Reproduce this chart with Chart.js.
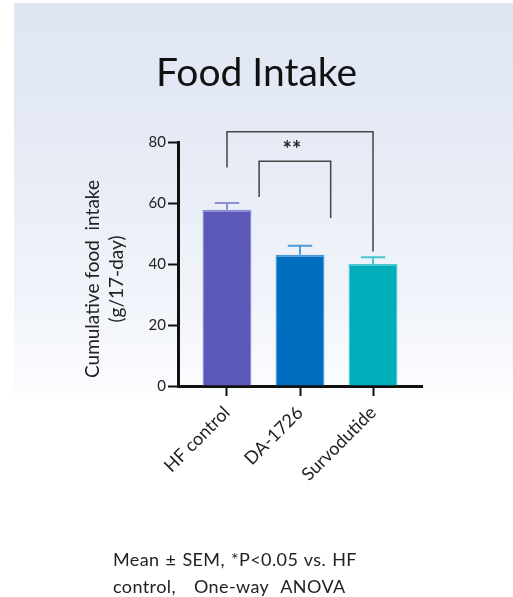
<!DOCTYPE html>
<html>
<head>
<meta charset="utf-8">
<script src="https://cdn.jsdelivr.net/npm/chart.js@4.4.1/dist/chart.umd.min.js"></script>
<style>
  html, body { margin: 0; padding: 0; background: #fff; }
  body { width: 513px; height: 597px; position: relative; overflow: hidden; }
  #panel {
    position: absolute; left: 14px; top: 3px; right: 0; height: 400px;
    background: linear-gradient(to bottom, #dfe6f3 0px, #e6ebf5 150px, #f1f4fa 300px, #fbfcfe 385px, #ffffff 400px);
  }
  #wrap { position: absolute; left: 0; top: 0; width: 513px; height: 597px; }
  #note {
    position: absolute; left: 113px; top: 546px;
    font-family: Lato, sans-serif; font-size: 18px; line-height: 27px;
    letter-spacing: 0.4px; word-spacing: 1px;
    color: #222; white-space: pre;
  }
</style>
</head>
<body>
<div id="panel"></div>
<div id="wrap"><canvas id="chart" width="513" height="597"></canvas></div>
<div id="note">Mean ± SEM, *P&lt;0.05 vs. HF
control,   One-way  ANOVA</div>
<script>
// Group names and measured values
const categories = ['HF control', 'DA-1726', 'Survodutide'];
const meanIntake = [57.8, 43.0, 40.0];
const semIntake = [2.2, 3.0, 2.2];
const yTicks = [0, 20, 40, 60, 80];

const barFill = ['#5b58b8', '#006ec0', '#00adb9'];
const barEdge = ['#8c89d6', '#4d9ad6', '#4dc6ce'];

// Significance brackets (x in category index units, heights in g)
const brackets = [
  { x1: 0, x2: 2, top: 83.4, left: 71.6, right: 44.1, text: '' },
  { x1: 0.44, x2: 1.42, top: 73.7, left: 62.0, right: 55.1, text: '**' }
];

const errorBars = {
  id: 'errorBars',
  afterDatasetsDraw(chart) {
    const { ctx, scales: { y } } = chart;
    const meta = chart.getDatasetMeta(0);
    ctx.save();
    ctx.lineWidth = 2;
    meta.data.forEach((bar, i) => {
      const yTop = y.getPixelForValue(meanIntake[i] + semIntake[i]);
      const yMid = y.getPixelForValue(meanIntake[i]);
      const half = bar.width * 0.25;
      ctx.strokeStyle = barEdge[i];
      ctx.beginPath();
      ctx.moveTo(bar.x, yMid);
      ctx.lineTo(bar.x, yTop);
      ctx.moveTo(bar.x - half, yTop);
      ctx.lineTo(bar.x + half, yTop);
      ctx.stroke();
    });
    ctx.restore();
  }
};

const sigBrackets = {
  id: 'sigBrackets',
  afterDraw(chart) {
    const { ctx, scales: { x, y } } = chart;
    ctx.save();
    ctx.strokeStyle = '#444';
    ctx.lineWidth = 1.5;
    brackets.forEach(b => {
      const xa = x.getPixelForValue(b.x1), xb = x.getPixelForValue(b.x2);
      const yt = y.getPixelForValue(b.top);
      ctx.beginPath();
      ctx.moveTo(xa, y.getPixelForValue(b.left));
      ctx.lineTo(xa, yt);
      ctx.lineTo(xb, yt);
      ctx.lineTo(xb, y.getPixelForValue(b.right));
      ctx.stroke();
      if (b.text) {
        ctx.fillStyle = '#222';
        ctx.font = 'bold 22px Lato, sans-serif';
        ctx.textAlign = 'center';
        ctx.textBaseline = 'alphabetic';
        ctx.fillText(b.text, (xa + xb) / 2 - 3, yt - 4);
      }
    });
    ctx.restore();
  }
};

// Two-line y-axis caption, drawn beside the value axis
const yCaption = {
  id: 'yCaption',
  afterDraw(chart) {
    const { ctx, chartArea } = chart;
    const cy = (chartArea.top + chartArea.bottom) / 2 + 15;
    ctx.save();
    ctx.translate(93, cy);
    ctx.rotate(-Math.PI / 2);
    ctx.fillStyle = '#222';
    ctx.font = '19px Lato, sans-serif';
    ctx.textAlign = 'center';
    ctx.textBaseline = 'middle';
    ctx.fillText('Cumulative food  intake', 0, 0);
    ctx.fillText('(g/17-day)', 0, 24);
    ctx.restore();
  }
};

new Chart(document.getElementById('chart'), {
  type: 'bar',
  data: {
    datasets: [{
      data: meanIntake.map((v, i) => ({ x: i, y: v })),
      backgroundColor: barFill,
      borderColor: barEdge,
      borderWidth: { top: 2, left: 1, right: 1, bottom: 0 },
      borderSkipped: false,
      categoryPercentage: 1,
      barPercentage: 0.67
    }]
  },
  options: {
    responsive: false,
    animation: false,
    layout: { padding: { top: 0, right: 91, bottom: 111, left: 91 } },
    plugins: {
      legend: { display: false },
      tooltip: { enabled: false },
      title: {
        display: true,
        text: 'Food Intake',
        color: '#111',
        font: { family: 'Lato, sans-serif', size: 39, weight: '400', lineHeight: 1.2 },
        padding: { top: 50, bottom: 45.2 }
      }
    },
    scales: {
      x: {
        type: 'linear',
        offset: false,
        min: -0.671,
        max: 2.671,
        afterBuildTicks: s => { s.ticks = categories.map((_, i) => ({ value: i })); },
        afterFit: s => { s.height = 100; },
        border: { display: true, width: 3, color: '#111' },
        grid: { display: true, offset: false, drawOnChartArea: false, drawTicks: true, tickLength: 10, tickWidth: 2, tickColor: '#111' },
        ticks: {
          autoSkip: false,
          minRotation: 45,
          maxRotation: 45,
          padding: 6,
          color: '#222',
          font: { family: 'Lato, sans-serif', size: 18 },
          callback: v => categories[v]
        }
      },
      y: {
        min: 0,
        max: 80,
        afterBuildTicks: s => { s.ticks = yTicks.map(v => ({ value: v })); },
        afterFit: s => { s.width = 87; },
        border: { display: true, width: 3, color: '#111' },
        grid: { display: true, drawOnChartArea: false, drawTicks: true, tickLength: 10, tickWidth: 2, tickColor: '#111' },
        ticks: {
          padding: 2,
          color: '#222',
          font: { family: 'Lato, sans-serif', size: 15 }
        }
      }
    }
  },
  plugins: [errorBars, sigBrackets, yCaption]
});
</script>
</body>
</html>
